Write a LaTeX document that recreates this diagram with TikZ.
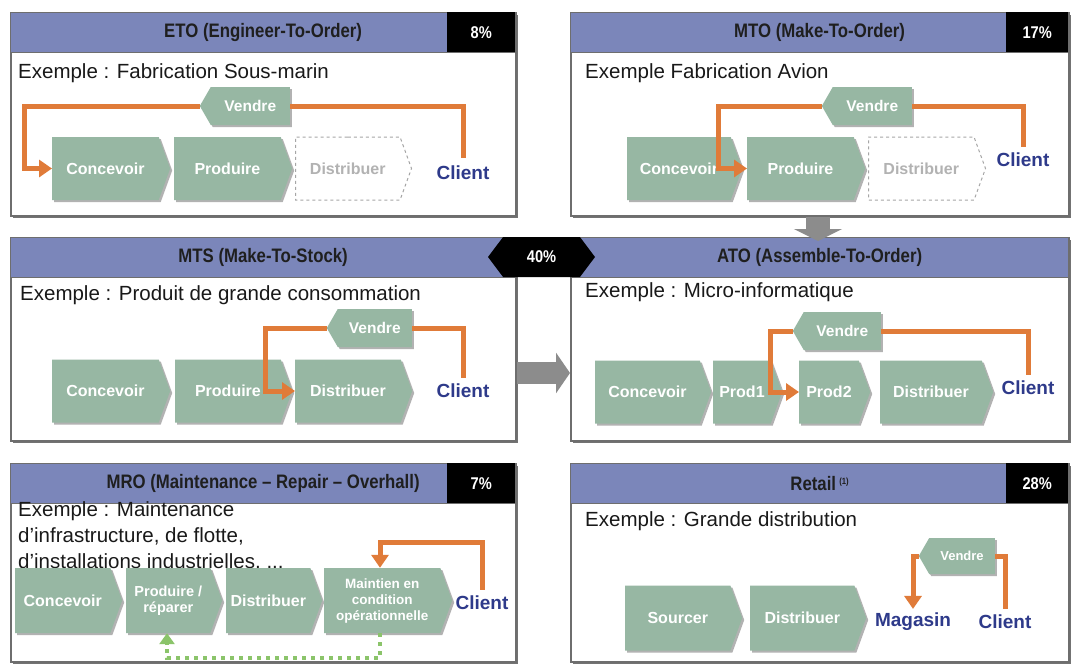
\documentclass[tikz,border=0pt]{standalone}
\usepackage{fontspec}
\setmainfont{Liberation Sans}
\newfontfamily\nar[FakeStretch=0.86]{Liberation Sans}
\usetikzlibrary{shapes.symbols,shadows,arrows.meta,calc}
\definecolor{hdrblue}{HTML}{7B86BA}
\definecolor{chevgreen}{HTML}{97B7A3}
\definecolor{orng}{HTML}{E07B39}
\definecolor{navy}{HTML}{2E3A8A}
\definecolor{gdot}{HTML}{8BC46A}
\definecolor{bordergray}{HTML}{6E6E6E}
\definecolor{arrgray}{HTML}{8C8C8C}
\tikzset{
 panel/.style={draw=bordergray, line width=1.6pt, fill=white, anchor=north west, inner sep=0pt,
   drop shadow={shadow xshift=2.5pt, shadow yshift=-2.5pt, fill=black!55, opacity=1}},
 hdr/.style={draw=bordergray, line width=1.2pt, fill=hdrblue, anchor=north west, inner sep=0pt,
   text=black!88, font=\nar\bfseries\fontsize{19.5}{22}\selectfont},
 pctbox/.style={fill=black, anchor=north west, inner sep=0pt, text=white,
   font=\nar\bfseries\fontsize{17}{20}\selectfont},
 hexpct/.style={shape=signal, signal to=west and east, signal pointer angle=106, fill=black,
   text=white, inner sep=0pt, font=\nar\bfseries\fontsize{17}{20}\selectfont},
 chev/.style={shape=signal, signal to=east, signal from=nowhere, signal pointer angle=140,
   fill=chevgreen, text=white, inner sep=0pt, align=center, anchor=west,
   font=\bfseries\fontsize{16}{18}\selectfont,
   drop shadow={shadow xshift=2pt, shadow yshift=-2pt, fill=black!30, opacity=1}},
 ghost/.style={shape=signal, signal to=east, signal from=nowhere, signal pointer angle=140,
   draw=black!35, dashed, line width=1pt, fill=white, text=black!30, inner sep=0pt, anchor=west,
   font=\bfseries\fontsize{16}{18}\selectfont},
 vend/.style={shape=signal, signal to=west, signal from=nowhere, signal pointer angle=120,
   fill=chevgreen, text=white, inner sep=0pt, minimum height=38pt, anchor=east,
   font=\bfseries\fontsize{15.5}{17}\selectfont,
   drop shadow={shadow xshift=2pt, shadow yshift=-2pt, fill=black!30, opacity=1}},
 clientlbl/.style={text=navy, inner sep=0pt, font=\bfseries\fontsize{19}{22}\selectfont},
 ex/.style={anchor=base west, inner sep=0pt, text=black!90, font=\fontsize{20.5}{24}\selectfont},
 oline/.style={draw=orng, line width=5pt},
 oarr/.style={draw=orng, line width=5pt, -{Triangle[length=13pt,width=17pt]}},
 garr/.style={draw=gdot, line width=4pt, dash pattern=on 4pt off 5pt, -{Triangle[length=11pt,width=15pt]}},
 bigarr/.style={draw=arrgray, line width=22pt, -{Triangle[length=14pt,width=40pt]}},
 downarr/.style={draw=arrgray, line width=24pt, -{Triangle[length=12pt,width=48pt]}}
}
\begin{document}
\begin{tikzpicture}[x=1pt,y=-1pt]
\useasboundingbox (0,0) rectangle (1075,664);

% ---------- panels ----------
\node[panel, minimum width=505pt, minimum height=203pt] (eto) at (10,12) {};
\node[panel, minimum width=498pt, minimum height=203pt] (mto) at (570,12) {};
\node[panel, minimum width=505pt, minimum height=203pt] (mts) at (10,237) {};
\node[panel, minimum width=498pt, minimum height=203pt] (ato) at (570,237) {};
\node[panel, minimum width=505pt, minimum height=198pt] (mro) at (10,463) {};
\node[panel, minimum width=498pt, minimum height=198pt] (ret) at (570,463) {};

\node[hdr, minimum width=505pt, minimum height=40pt] (etoH) at (10,12) {ETO (Engineer-To-Order)};
\node[hdr, minimum width=498pt, minimum height=40pt] (mtoH) at (570,12) {MTO (Make-To-Order)};
\node[hdr, minimum width=505pt, minimum height=40pt] (mtsH) at (10,237) {MTS (Make-To-Stock)};
\node[hdr, minimum width=498pt, minimum height=40pt] (atoH) at (570,237) {ATO (Assemble-To-Order)};
\node[hdr, minimum width=505pt, minimum height=40pt] (mroH) at (10,463) {MRO (Maintenance – Repair – Overhall)};
\node[hdr, minimum width=498pt, minimum height=40pt] (retH) at (570,463) {Retail\,\raisebox{0.55ex}{\fontsize{9}{9}\selectfont(1)}};

\node[pctbox, minimum width=68pt, minimum height=40pt] (etoP) at (447,12) {8\%};
\node[pctbox, minimum width=62pt, minimum height=40pt] (mtoP) at (1006,12) {17\%};
\node[pctbox, minimum width=68pt, minimum height=40pt] (mroP) at (447,463) {7\%};
\node[pctbox, minimum width=62pt, minimum height=40pt] (retP) at (1006,463) {28\%};
\node[hexpct, minimum width=107pt, minimum height=40pt] (p40) at (541.5,257) {40\%};

% big grey arrows
\draw[downarr] (mto.south -| 818,0) -- (818,241);
\draw[bigarr] (mts.east |- 0,373) -- (ato.west |- 0,373);

% ---------- ETO ----------
\node[ex] (etoE) at (18,78) {Exemple : Fabrication Sous-marin};
\node[chev, minimum width=118pt, minimum height=63pt] (etoC) at (52,168.5) {Concevoir};
\node[chev, minimum width=118pt, minimum height=63pt] (etoPr) at (174,168.5) {Produire};
\node[ghost, minimum width=116pt, minimum height=63pt] (etoD) at (295,168.5) {Distribuer};
\node[clientlbl] (etoK) at (463,173) {Client};
\node[vend, minimum width=90pt] (etoV) at (290,106) {Vendre};
\coordinate (etoL) at (24,168.5);
\draw[oline] ([yshift=8pt]etoK.north) |- (etoV.east);
\draw[oarr] (etoV.west) -| (etoL) -- (etoC.west);

% ---------- MTO ----------
\node[ex] (mtoE) at (585,78) {Exemple Fabrication Avion};
\node[chev, minimum width=115pt, minimum height=63pt] (mtoC) at (627,168.5) {Concevoir};
\node[chev, minimum width=118pt, minimum height=63pt] (mtoPr) at (747,168.5) {Produire};
\node[ghost, minimum width=117pt, minimum height=63pt] (mtoD) at (868,168.5) {Distribuer};
\node[clientlbl] (mtoK) at (1023,160) {Client};
\node[vend, minimum width=90pt] (mtoV) at (912,106) {Vendre};
\coordinate (mtoL) at (718,168.5);
\draw[oline] ([yshift=6pt]mtoK.north) |- (mtoV.east);
\draw[oarr] (mtoV.west) -| (mtoL) -- (mtoPr.west);

% ---------- MTS ----------
\node[ex] (mtsE) at (20,300) {Exemple : Produit de grande consommation};
\node[chev, minimum width=118pt, minimum height=63pt] (mtsC) at (52,391) {Concevoir};
\node[chev, minimum width=117pt, minimum height=63pt] (mtsPr) at (175,391) {Produire};
\node[chev, minimum width=117pt, minimum height=63pt] (mtsD) at (295,391) {Distribuer};
\node[clientlbl] (mtsK) at (463,391) {Client};
\node[vend, minimum width=85pt] (mtsV) at (412,328) {Vendre};
\coordinate (mtsL) at (265,391);
\draw[oline] ([yshift=6pt]mtsK.north) |- (mtsV.east);
\draw[oarr] (mtsV.west) -| (mtsL) -- (mtsD.west);

% ---------- ATO ----------
\node[ex] (atoE) at (585,297) {Exemple : Micro-informatique};
\node[chev, minimum width=116pt, minimum height=63pt] (atoC) at (595,392) {Concevoir};
\node[chev, minimum width=69pt, minimum height=63pt] (atoP1) at (713,392) {Prod1};
\node[chev, minimum width=71pt, minimum height=63pt] (atoP2) at (799,392) {Prod2};
\node[chev, minimum width=113pt, minimum height=63pt] (atoD) at (880,392) {Distribuer};
\node[clientlbl] (atoK) at (1028,388) {Client};
\node[vend, minimum width=88pt] (atoV) at (881,331) {Vendre};
\coordinate (atoL) at (770,392);
\draw[oline] ([yshift=6pt]atoK.north) |- (atoV.east);
\draw[oarr] (atoV.west) -| (atoL) -- (atoP2.west);

% ---------- MRO ----------
\node[ex] (mroE1) at (18,516) {Exemple : Maintenance};
\node[ex] (mroE2) at (18,542) {d’infrastructure, de flotte,};
\node[ex] (mroE3) at (18,568) {d’installations industrielles, ...};
\node[chev, minimum width=107pt, minimum height=65pt] (mroC) at (15,600.5) {Concevoir};
\node[chev, minimum width=96pt, minimum height=65pt, font=\bfseries\fontsize{14.5}{16.5}\selectfont] (mroPr) at (126,600.5) {Produire /\\réparer};
\node[chev, minimum width=96pt, minimum height=65pt] (mroD) at (226,600.5) {Distribuer};
\node[chev, minimum width=128pt, minimum height=65pt, font=\bfseries\fontsize{13.5}{16}\selectfont] (mroM) at (324,600.5) {Maintien en\\condition\\opérationnelle};
\node[clientlbl] (mroK) at (482,603) {Client};
\coordinate (mroT) at (380,542);
\coordinate (mroB) at (380,658);
\coordinate (mroBL) at (167,658);
\draw[oarr] ([yshift=6pt]mroK.north) |- (mroT) -- (mroT |- mroM.north);
\draw[garr] (mroB |- mroM.south) -- (mroB) -- (mroBL) -- (mroBL |- mroPr.south);

% ---------- Retail ----------
\node[ex] (retE) at (585,526) {Exemple : Grande distribution};
\node[chev, minimum width=117pt, minimum height=65pt] (retS) at (625,618) {Sourcer};
\node[chev, minimum width=116pt, minimum height=65pt] (retD) at (750,618) {Distribuer};
\node[clientlbl] (retM) at (913,622) {Magasin};
\node[clientlbl] (retK) at (1005,622) {Client};
\node[vend, minimum width=76pt, minimum height=36pt, font=\bfseries\fontsize{13}{15}\selectfont] (retV) at (995,556) {Vendre};
\draw[oline] ([yshift=6pt]retK.north) |- (retV.east);
\draw[oarr] (retV.west) -| ([yshift=4pt]retM.north);
\end{tikzpicture}
\end{document}
